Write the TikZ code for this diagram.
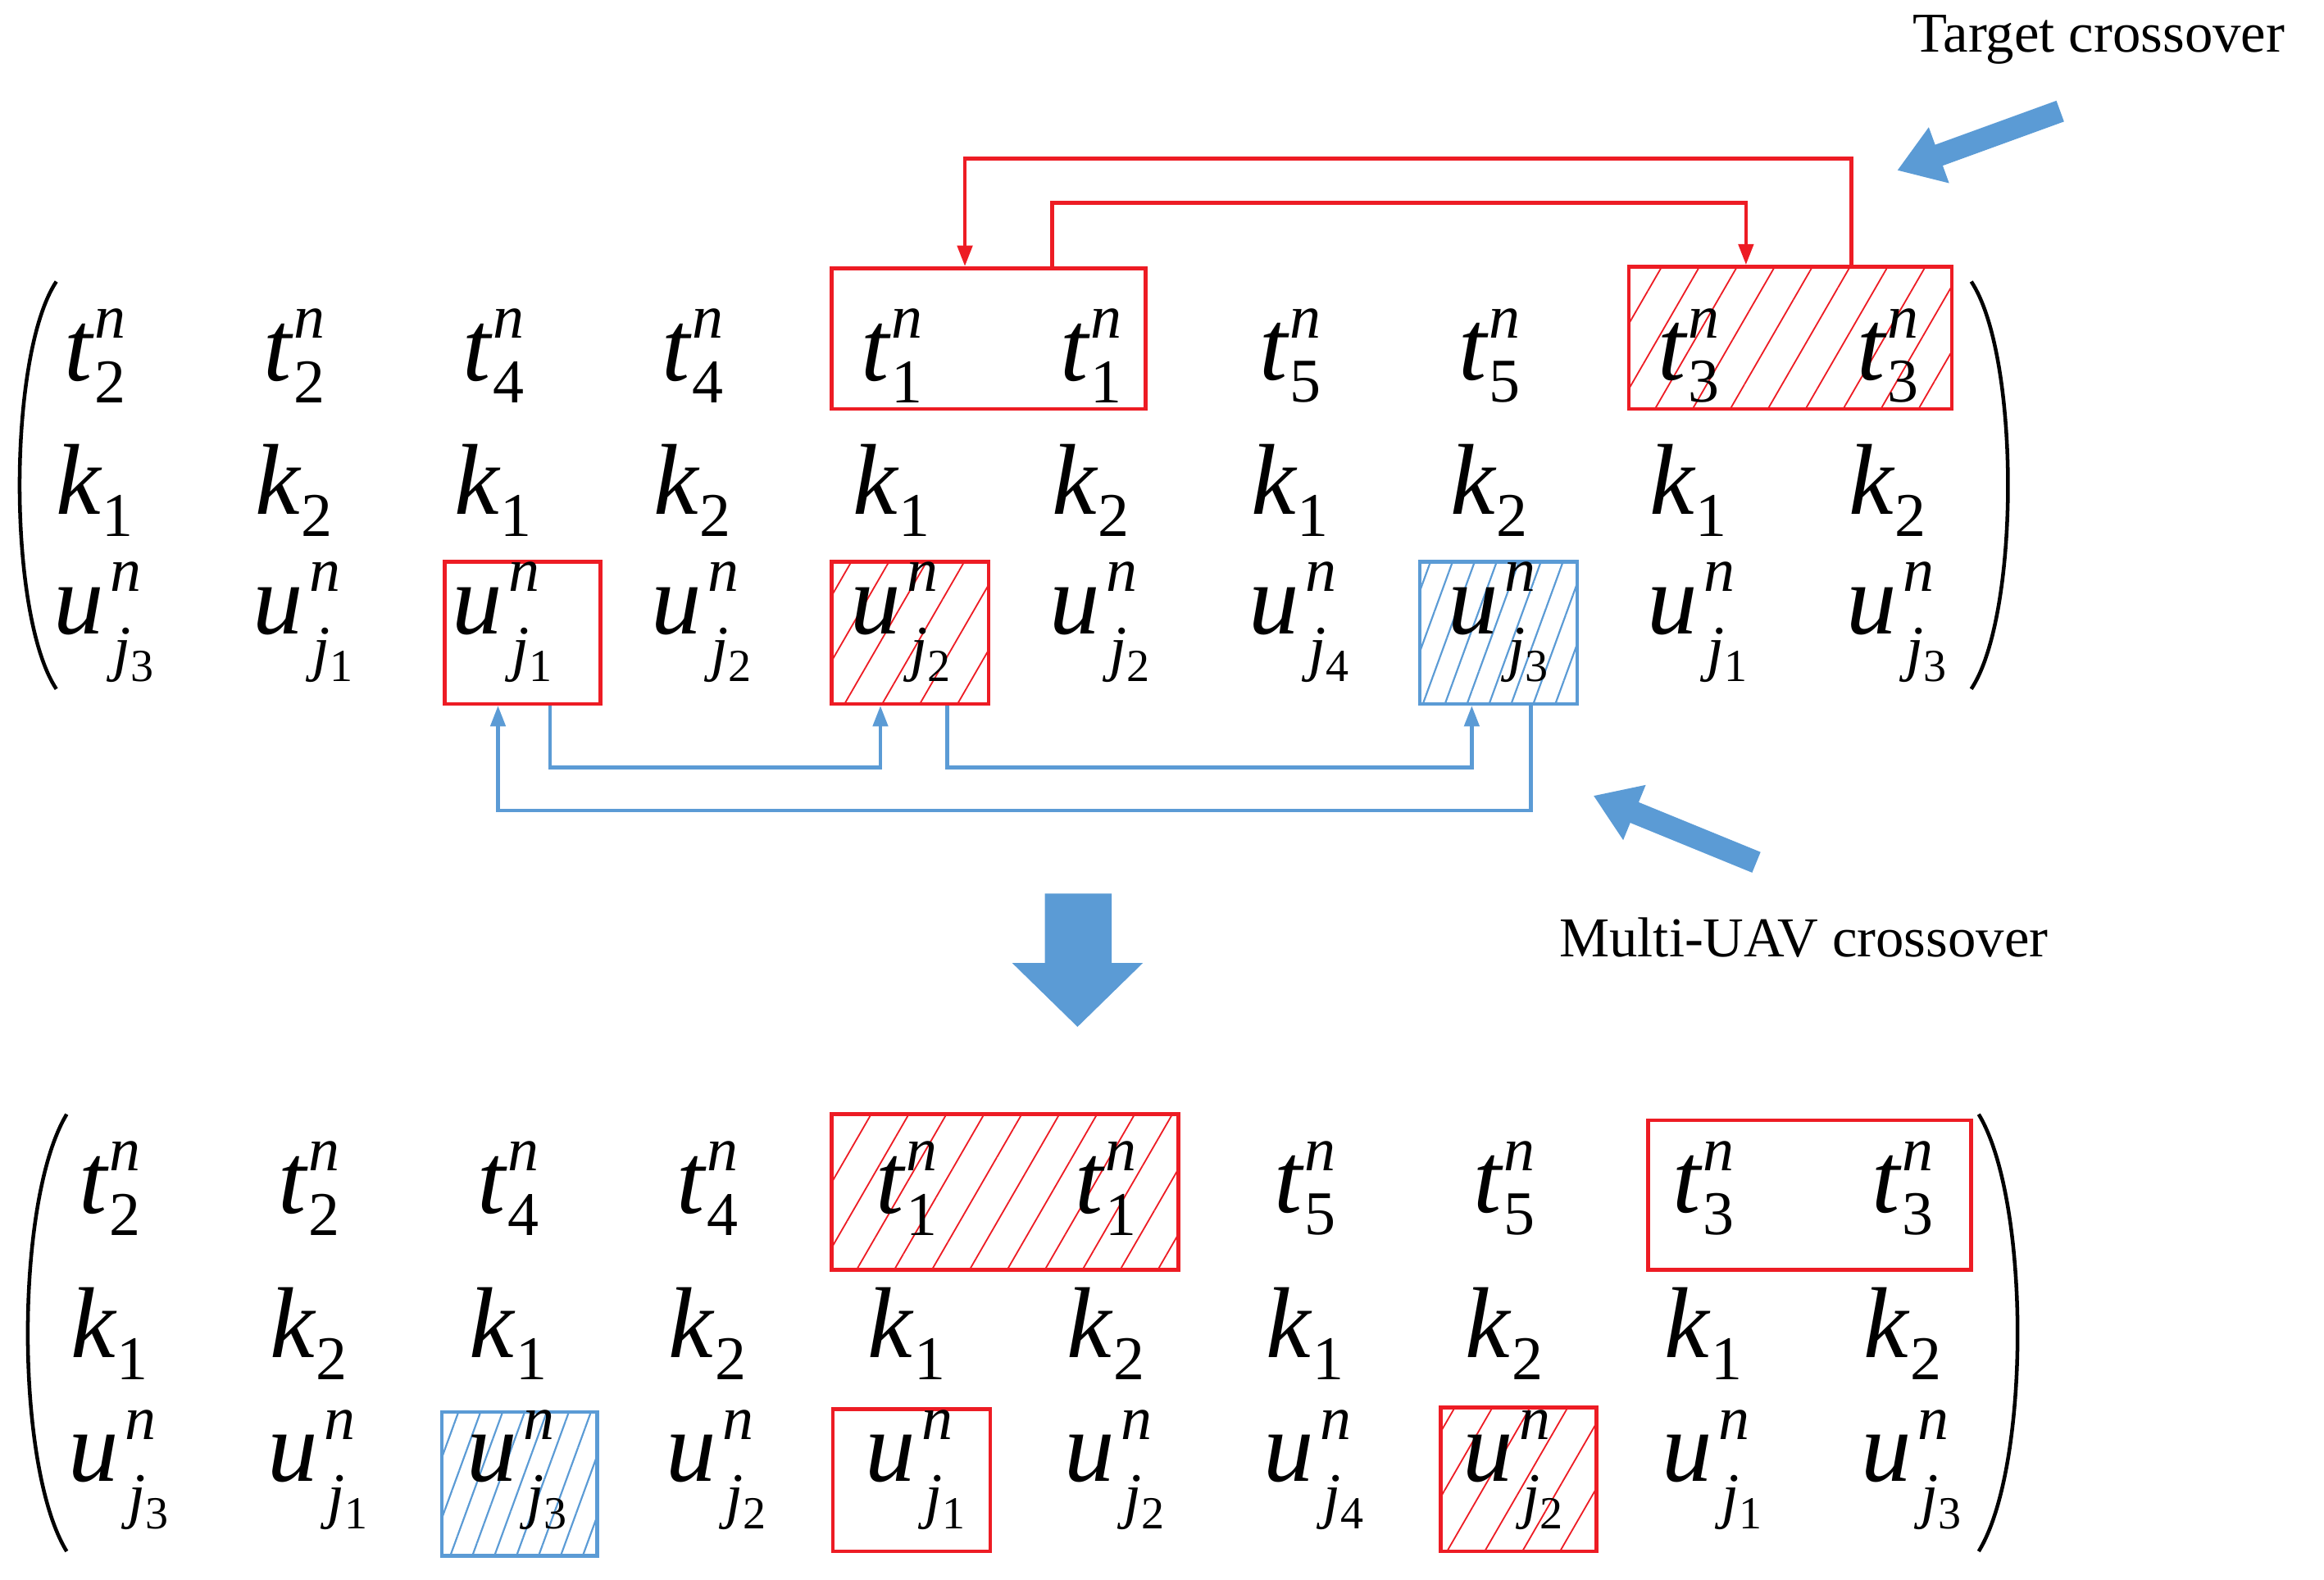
\documentclass[tikz,border=0pt]{standalone}
\usepackage{fontspec}
\setmainfont{Liberation Serif}
\usetikzlibrary{patterns.meta,arrows.meta}
\definecolor{rd}{RGB}{237,28,36}
\definecolor{bl}{RGB}{91,155,213}
\newcommand\subf{\fontsize{42}{42}\selectfont}
\newcommand\myent[3]{\textit{#1}\makebox[0pt][l]{\raisebox{0.42em}{\subf\textit{#3}}}\raisebox{-0.22em}{\subf #2}}
\newcommand\myk[1]{\textit{k}\raisebox{-0.22em}{\subf #1}}
\newcommand\myu[1]{\textit{u}\makebox[0pt][l]{\raisebox{0.42em}{\subf\hspace{0.1em}\textit{n}}}\raisebox{-0.35em}{\subf\hspace{0.15em}\textit{j}\raisebox{-0.2em}{\fontsize{31}{31}\selectfont #1}}}
\begin{document}
\begin{tikzpicture}[x=1pt,y=-1pt,
 ent/.style={font=\fontsize{68}{70}\selectfont,inner sep=0},
 rbox/.style={draw=rd,line width=2.5pt},
 bbox/.style={draw=bl,line width=2.5pt},
 rh/.style={pattern={Lines[angle=60,distance=22pt,line width=1pt]},pattern color=rd},
 bh/.style={pattern={Lines[angle=70,distance=14pt,line width=1.2pt]},pattern color=bl},
 rl/.style={draw=rd,line width=2.5pt},
 bll/.style={draw=bl,line width=2.5pt},
 tip/.style={-{Triangle[length=14pt,width=10pt]}},
 par/.style={line width=2.5pt}]
\useasboundingbox (0,0) rectangle (1568,1066);
% hatching
\fill[rh] (1099,180) rectangle (1317,276);
\fill[rh] (561,379) rectangle (667,475);
\fill[bh] (958,379) rectangle (1064,475);
\fill[rh] (561,752) rectangle (795,857);
\fill[bh] (298,953) rectangle (403,1050);
\fill[rh] (972,950) rectangle (1077,1047);
% boxes top
\node[rbox,minimum width=212,minimum height=95,inner sep=0] (bt1) at (667,228.5) {};
\node[rbox,minimum width=218,minimum height=96,inner sep=0] (bt3) at (1208,228) {};
\node[rbox,minimum width=105,minimum height=96,inner sep=0] (bu3) at (352.5,427) {};
\node[rbox,minimum width=106,minimum height=96,inner sep=0] (bu5) at (614,427) {};
\node[bbox,minimum width=106,minimum height=96,inner sep=0] (bu8) at (1011,427) {};
% boxes bottom
\node[rbox,minimum width=234,minimum height=105,inner sep=0] (ct1) at (678,804.5) {};
\node[rbox,minimum width=218,minimum height=101,inner sep=0] (ct3) at (1221,806.5) {};
\node[bbox,minimum width=105,minimum height=97,inner sep=0] (cu3) at (350.5,1001.5) {};
\node[rbox,minimum width=106,minimum height=96,inner sep=0] (cu5) at (615,999) {};
\node[rbox,minimum width=105,minimum height=97,inner sep=0] (cu8) at (1024.5,998.5) {};
% entries
\foreach \i/\t/\k/\u in {0/2/1/3,1/2/2/1,2/4/1/1,3/4/2/2,4/1/1/2,5/1/2/2,6/5/1/4,7/5/2/3,8/3/1/1,9/3/2/3}{
  \node[ent] (a\i) at (64+134.4*\i,240) {\myent{t}{\t}{n}};
  \node[ent] (b\i) at (64+134.4*\i,331) {\myk{\k}};
  \node[ent] (c\i) at (70+134.4*\i,420) {\myu{\u}};
}
\foreach \i/\t/\k/\u in {0/2/1/3,1/2/2/1,2/4/1/3,3/4/2/2,4/1/1/1,5/1/2/2,6/5/1/4,7/5/2/2,8/3/1/1,9/3/2/3}{
  \node[ent] (d\i) at (74+134.4*\i,802) {\myent{t}{\t}{n}};
  \node[ent] (e\i) at (74+134.4*\i,900) {\myk{\k}};
  \node[ent] (f\i) at (80+134.4*\i,992) {\myu{\u}};
}
% parentheses
\draw[par] (38,190) .. controls (5,240) and (5,415) .. (38,465);
\draw[par] (1330,190) .. controls (1363,240) and (1363,415) .. (1330,465);
\draw[par] (45,752) .. controls (10,810) and (10,990) .. (45,1047);
\draw[par] (1335,752) .. controls (1370,810) and (1370,990) .. (1335,1047);
% red connectors
\draw[rl,tip] (bt3.north -| 1249,0) |- (651,107) -- (bt1.north -| 651,0);
\draw[rl,tip] (bt1.north -| 710,0) |- (1178,137) -- (bt3.north -| 1178,0);
% blue connectors
\draw[bll,tip] (bu3.south -| 371,0) |- (594,518) -- (bu5.south -| 594,0);
\draw[bll,tip] (bu5.south -| 639,0) |- (993,518) -- (bu8.south -| 993,0);
\draw[bll,tip] (bu8.south -| 1033,0) |- (336,547) -- (bu3.south -| 336,0);
% big arrows
\coordinate (p1) at (1390,75); \coordinate (p2) at (1280,115);
\draw[bl,line width=15pt,-{Triangle[length=30pt,width=38pt]}] (p1) -- (p2);
\coordinate (q1) at (1185,582); \coordinate (q2) at (1075,537);
\draw[bl,line width=15pt,-{Triangle[length=30pt,width=38pt]}] (q1) -- (q2);
\fill[bl] (705,603) -- (750,603) -- (750,650) -- (771,650) -- (727,693) -- (683,650) -- (705,650) -- cycle;
% labels
\node[font=\fontsize{38}{40}\selectfont] (lt) at (1416,27) {Target crossover};
\node[font=\fontsize{38}{40}\selectfont] (lm) at (1217,633) {Multi-UAV crossover};
\end{tikzpicture}
\end{document}
